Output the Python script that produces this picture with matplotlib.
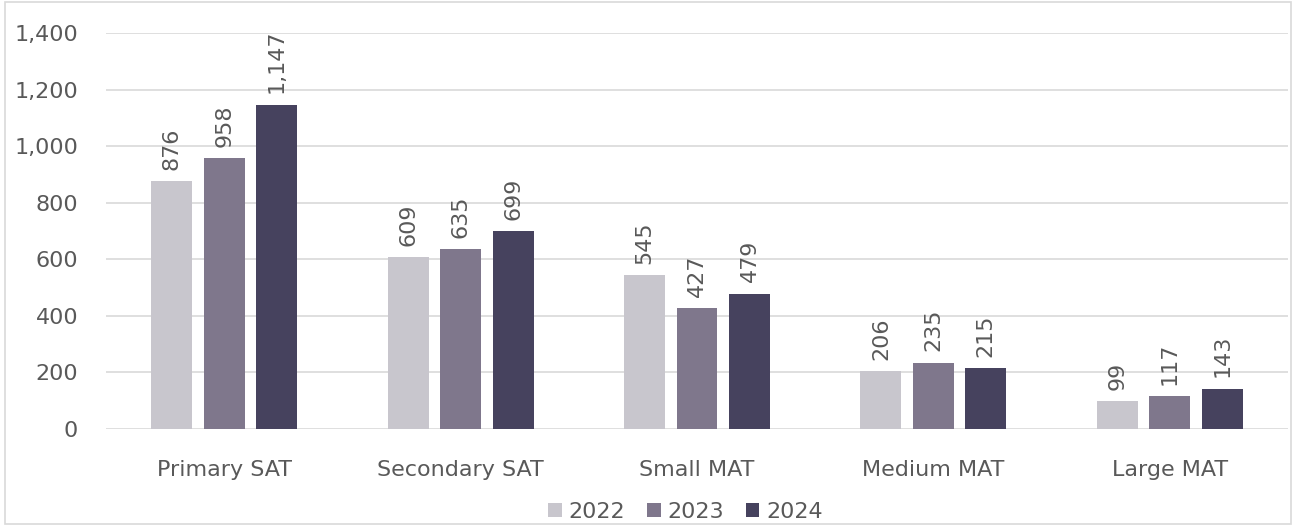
import numpy as np
import matplotlib.pyplot as plt
from matplotlib.patches import Rectangle

categories = ['Primary SAT', 'Secondary SAT', 'Small MAT', 'Medium MAT', 'Large MAT']
years = ['2022', '2023', '2024']
values_2022 = [876, 609, 545, 206, 99]
values_2023 = [958, 635, 427, 235, 117]
values_2024 = [1147, 699, 479, 215, 143]
colors = ['#C8C6CD', '#7F778C', '#46425E']

text_col = '#595959'
grid_col = '#D9D9D9'

plt.rcParams['font.family'] = ['DejaVu Sans']

fig = plt.figure(figsize=(12.96, 5.26), dpi=100)
ax = fig.add_axes([0.0818, 0.1844, 0.912, 0.7529])

x = np.arange(len(categories))
pitch = 0.222
width = 0.173
series = [values_2022, values_2023, values_2024]
for i, vals in enumerate(series):
    pos = x + (i - 1) * pitch
    bars = ax.bar(pos, vals, width=width, color=colors[i], label=years[i], zorder=3)
    for b, v in zip(bars, vals):
        ax.annotate(f'{v:,}', (b.get_x() + b.get_width() / 2, v),
                    xytext=(0, 8), textcoords='offset points',
                    rotation=90, ha='center', va='bottom',
                    fontsize=16, color=text_col)

ax.set_xlim(-0.5, len(categories) - 0.5)
ax.set_ylim(0, 1400)
ax.set_yticks(np.arange(0, 1401, 200))
ax.set_yticklabels([f'{t:,}' for t in range(0, 1401, 200)])
ax.set_xticks(x)
ax.set_xticklabels(categories)
ax.tick_params(axis='both', length=0, labelsize=16, labelcolor=text_col)
ax.tick_params(axis='x', pad=22)
ax.tick_params(axis='y', pad=20)
ax.yaxis.grid(True, color=grid_col, linewidth=1.2, zorder=0)
for s in ax.spines.values():
    s.set_visible(False)

leg = fig.legend(loc='lower center', bbox_to_anchor=(0.529, -0.03), ncol=3,
                 frameon=False, fontsize=16, handlelength=0.6, handleheight=0.6,
                 handletextpad=0.3, columnspacing=1.0)
for t in leg.get_texts():
    t.set_color(text_col)

fig.patches.append(Rectangle((0.004, 0.004), 0.992, 0.992, transform=fig.transFigure,
                             fill=False, edgecolor=grid_col, linewidth=1.2))

fig.savefig('out.png', dpi=100)
